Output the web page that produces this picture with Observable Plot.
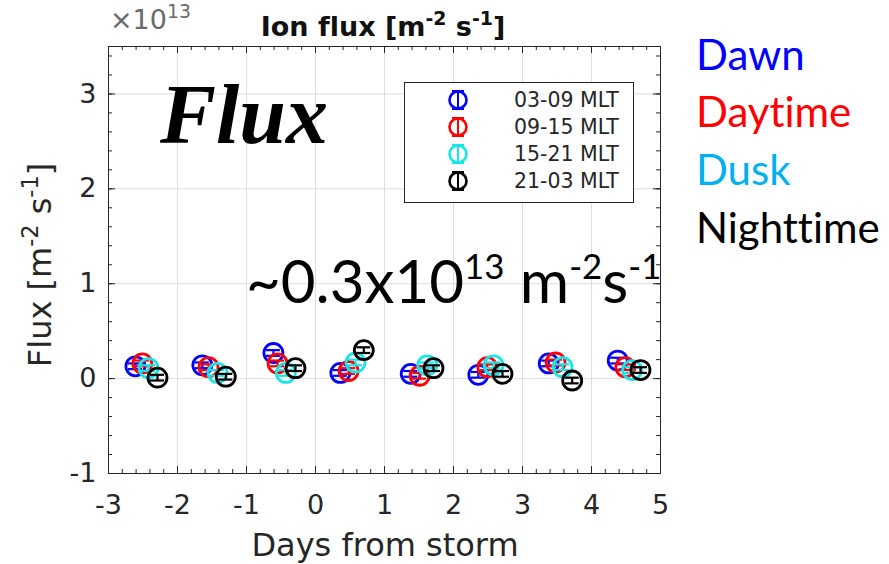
<!DOCTYPE html>
<html>
<head>
<meta charset="utf-8">
<script src="https://cdn.jsdelivr.net/npm/d3@7"></script>
<script src="https://cdn.jsdelivr.net/npm/@observablehq/plot@0.6"></script>
<style>
  html, body { margin: 0; padding: 0; background: #fff; }
  #wrap { position: relative; width: 889px; height: 564px; overflow: hidden; }
  #wrap svg { position: absolute; left: 0; top: 0; }
  #overlay { pointer-events: none; font-variant-ligatures: none; }
</style>
</head>
<body>
<div id="wrap"></div>
<script>
// ---- data ----
const series = ["03-09 MLT", "09-15 MLT", "15-21 MLT", "21-03 MLT"];
const seriesColors = ["#0000ff", "#ff0000", "#18e6e6", "#000000"];
const dawnX  = [-2.61, -1.64, -0.61, 0.36, 1.38, 2.36, 3.38, 4.38];
const dawnY  = [0.13, 0.14, 0.27, 0.06, 0.05, 0.04, 0.16, 0.19];
const dayX   = [-2.51, -1.55, -0.55, 0.48, 1.51, 2.49, 3.48, 4.49];
const dayY   = [0.16, 0.12, 0.16, 0.08, 0.03, 0.12, 0.17, 0.12];
const duskX  = [-2.42, -1.42, -0.43, 0.58, 1.62, 2.58, 3.58, 4.59];
const duskY  = [0.11, 0.06, 0.06, 0.17, 0.14, 0.14, 0.12, 0.09];
const nightX = [-2.29, -1.30, -0.29, 0.70, 1.71, 2.71, 3.72, 4.71];
const nightY = [0.01, 0.02, 0.11, 0.30, 0.11, 0.05, -0.02, 0.09];
const errs   = [0.03, 0.03, 0.03, 0.03, 0.03, 0.03, 0.03, 0.03];
const xTicks = [-3, -2, -1, 0, 1, 2, 3, 4, 5];
const yTicks = [-1, 0, 1, 2, 3];
const xMinor = d3.range(-3, 5.001, 0.2).map(v => +v.toFixed(2));
const yMinor = d3.range(-1, 3.501, 0.2).map(v => +v.toFixed(2));
const rightLabels = ["Dawn", "Daytime", "Dusk", "Nighttime"];
const rightColors = ["#0000ff", "#ff0000", "#00b0f0", "#000000"];

const rows = [];
[[dawnX, dawnY], [dayX, dayY], [duskX, duskY], [nightX, nightY]].forEach(([xs, ys], s) => {
  xs.forEach((x, i) => rows.push({series: series[s], x, y: ys[i], e: errs[i], s}));
});

const W = 889, H = 564;
const mL = 108, mR = 229, mT = 46, mB = 91;
const fw = W - mL - mR, fh = H - mT - mB;
const axisColor = "#262626";

const marks = [
  Plot.gridX(xTicks.slice(1, -1), {stroke: "#dedede", strokeOpacity: 1}),
  Plot.gridY(yTicks.slice(1), {stroke: "#dedede", strokeOpacity: 1}),
  // inward ticks, all four sides
  Plot.ruleX(xTicks, {insetTop: fh - 7, stroke: axisColor}),
  Plot.ruleX(xTicks, {insetBottom: fh - 7, stroke: axisColor}),
  Plot.ruleX(xMinor, {insetTop: fh - 4, stroke: axisColor}),
  Plot.ruleX(xMinor, {insetBottom: fh - 4, stroke: axisColor}),
  Plot.ruleY(yTicks, {insetRight: fw - 7, stroke: axisColor}),
  Plot.ruleY(yTicks, {insetLeft: fw - 7, stroke: axisColor}),
  Plot.ruleY(yMinor, {insetRight: fw - 4, stroke: axisColor}),
  Plot.ruleY(yMinor, {insetLeft: fw - 4, stroke: axisColor}),
  Plot.axisX(xTicks, {tickSize: 0, tickPadding: 21, label: null, fontSize: 27, fill: axisColor,
                      tickFormat: d => String(d).replace("−", "-")}),
  Plot.axisY(yTicks, {tickSize: 0, tickPadding: 12, label: null, fontSize: 27, fill: axisColor,
                      tickFormat: d => String(d).replace("−", "-")})
];
series.forEach((name, s) => {
  const data = rows.filter(r => r.s === s);
  const c = seriesColors[s];
  marks.push(
    Plot.ruleX(data, {x: "x", y1: d => d.y - d.e, y2: d => d.y + d.e, stroke: c, strokeWidth: 2.2}),
    Plot.ruleY(data, {y: d => d.y - d.e, x1: "x", x2: "x", insetLeft: -7, insetRight: -7, stroke: c, strokeWidth: 2.2}),
    Plot.ruleY(data, {y: d => d.y + d.e, x1: "x", x2: "x", insetLeft: -7, insetRight: -7, stroke: c, strokeWidth: 2.2}),
    Plot.dot(data, {x: "x", y: "y", r: 9.5, stroke: c, strokeWidth: 2.8, fill: "none"})
  );
});
marks.push(Plot.frame({stroke: axisColor, strokeWidth: 1}));

const chart = Plot.plot({
  width: W, height: H,
  marginLeft: mL, marginRight: mR, marginTop: mT, marginBottom: mB,
  style: {fontFamily: "DejaVu Sans", background: "transparent", overflow: "visible"},
  x: {domain: [-3, 5]},
  y: {domain: [-1, 3.5]},
  marks
});
document.getElementById("wrap").appendChild(chart);

// ---- overlay texts (titles, labels, legend, annotations) ----
const ns = "http://www.w3.org/2000/svg";
const ov = document.createElementNS(ns, "svg");
ov.setAttribute("id", "overlay");
ov.setAttribute("width", W); ov.setAttribute("height", H);
document.getElementById("wrap").appendChild(ov);

function el(tag, attrs, parent = ov) {
  const e = document.createElementNS(ns, tag);
  for (const k in attrs) e.setAttribute(k, attrs[k]);
  parent.appendChild(e);
  return e;
}
function richText(parent, attrs, parts, supScale = 0.7, supRise = null) {
  const t = el("text", attrs, parent);
  const fs = parseFloat(attrs["font-size"]);
  const supFs = fs * supScale;
  const rise = supRise != null ? supRise : fs * 0.42;
  let up = false;
  parts.forEach(([txt, sup]) => {
    const ts = el("tspan", {}, t);
    if (sup && !up) { ts.setAttribute("dy", -rise); up = true; }
    else if (!sup && up) { ts.setAttribute("dy", rise); up = false; }
    if (sup) ts.setAttribute("font-size", supFs);
    ts.textContent = txt;
  });
  return t;
}

// exponent label
richText(ov, {x: 110, y: 29, "font-family": "DejaVu Sans", "font-size": 27, fill: "#6a6a6a"},
  [["×10", false], ["13", true]]);
// title
richText(ov, {x: 383, y: 36, "text-anchor": "middle", "font-family": "DejaVu Sans", "font-weight": "bold",
  "font-size": 27, fill: "#111"}, [["Ion flux [m", false], ["-2", true], [" s", false], ["-1", true], ["]", false]]);
// y label
const yl = el("g", {transform: "translate(51,265) rotate(-90)"});
richText(yl, {x: 0, y: 0, "text-anchor": "middle", "font-family": "DejaVu Sans", "font-size": 32, fill: axisColor},
  [["Flux [m", false], ["-2", true], [" s", false], ["-1", true], ["]", false]]);
// x label
el("text", {x: 385, y: 556, "text-anchor": "middle", "font-family": "DejaVu Sans", "font-size": 32, fill: axisColor})
  .textContent = "Days from storm";

// legend
el("rect", {x: 404.5, y: 82.5, width: 229, height: 120, fill: "#fff", stroke: axisColor, "stroke-width": 1});
const legY = [100, 127, 154, 181];
series.forEach((name, s) => {
  const cy = legY[s], cx = 458, c = seriesColors[s];
  el("circle", {cx, cy, r: 8.5, fill: "none", stroke: c, "stroke-width": 2.6});
  el("line", {x1: cx, x2: cx, y1: cy - 9, y2: cy + 9, stroke: c, "stroke-width": 2});
  el("line", {x1: cx - 6, x2: cx + 6, y1: cy - 9, y2: cy - 9, stroke: c, "stroke-width": 2});
  el("line", {x1: cx - 6, x2: cx + 6, y1: cy + 9, y2: cy + 9, stroke: c, "stroke-width": 2});
  el("text", {x: 514, y: cy + 7, "font-family": "DejaVu Sans", "font-size": 20.5, fill: axisColor}).textContent = name;
});

// annotations
el("text", {x: 160, y: 143, "font-family": "Liberation Serif", "font-weight": "bold", "font-style": "italic",
  "font-size": 84, fill: "#000"}).textContent = "Flux";
richText(ov, {x: 246, y: 303, "font-family": "Lato", "font-size": 60, fill: "#000"},
  [["~0.3x10", false], ["13", true], [" m", false], ["-2", true], ["s", false], ["-1", true]], 0.58, 24);
rightLabels.forEach((t, i) => {
  el("text", {x: 696, y: [70, 127, 185, 243][i], "font-family": "Lato", "font-size": 42, fill: rightColors[i]})
    .textContent = t;
});
</script>
</body>
</html>
